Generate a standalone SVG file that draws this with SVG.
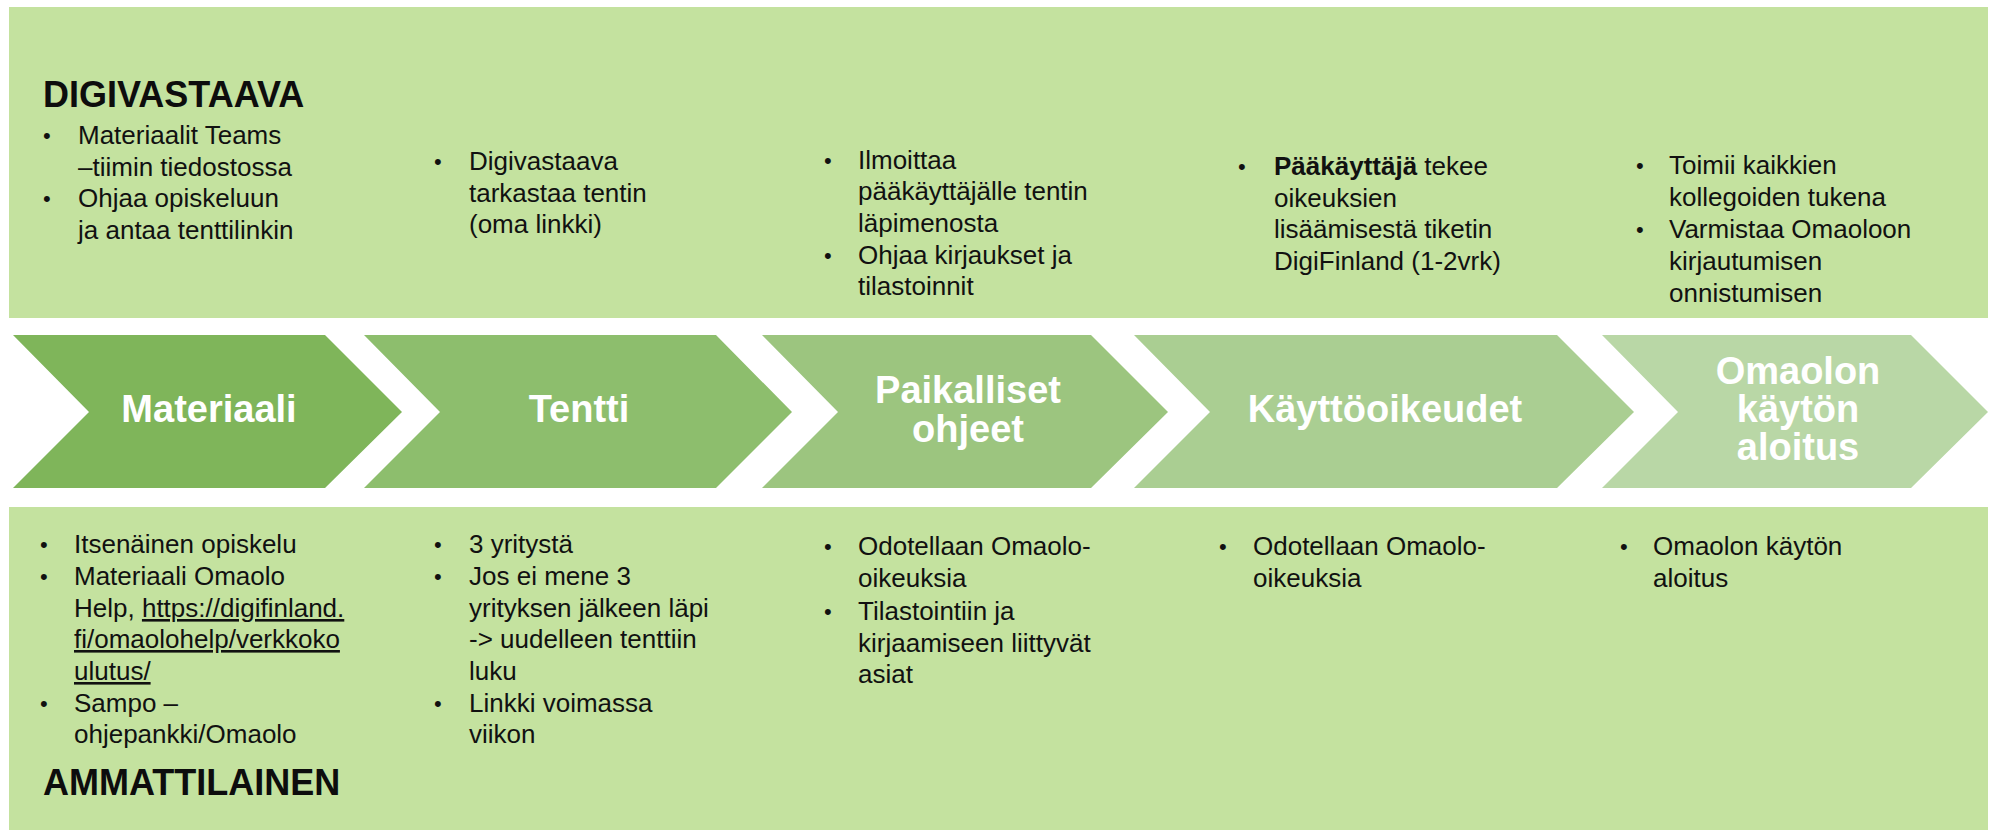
<svg xmlns="http://www.w3.org/2000/svg" width="1995" height="833" viewBox="0 0 1995 833">
  <style>
    .panel { fill: #C4E29F; }
    .head { font-family: "Liberation Sans", Arial, sans-serif; font-size: 36px; font-weight: bold; fill: #0d0d0d; }
    .body { font-family: "Liberation Sans", Arial, sans-serif; font-size: 26px; fill: #111111; }
    .bul { font-family: "Liberation Sans", Arial, sans-serif; font-size: 22px; fill: #111111; }
    .step { font-family: "Liberation Sans", Arial, sans-serif; font-size: 38px; font-weight: bold; fill: #ffffff; text-anchor: middle; }
    .link { text-decoration: underline; }
  </style>

  <!-- Background bands -->
  <g id="band-digivastaava">
    <rect class="panel" x="9" y="7" width="1979" height="311"/>
    <text class="head" x="43" y="107">DIGIVASTAAVA</text>
  </g>
  <g id="band-ammattilainen">
    <rect class="panel" x="9" y="507" width="1979" height="323"/>
    <text class="head" x="43" y="795">AMMATTILAINEN</text>
  </g>

  <!-- Process chevrons -->
  <g id="step-materiaali">
    <polygon points="13,335 325,335 402,412 325,488 13,488 89,412" fill="#7FB55A"/>
    <text class="step" x="209" y="422">Materiaali</text>
  </g>
  <g id="step-tentti">
    <polygon points="364,335 716,335 792,412 716,488 364,488 440,412" fill="#8DBE6D"/>
    <text class="step" x="579" y="422">Tentti</text>
  </g>
  <g id="step-paikalliset">
    <polygon points="762,335 1091,335 1168,412 1091,488 762,488 838,412" fill="#9CC57F"/>
    <text class="step"><tspan x="968" y="403">Paikalliset</tspan><tspan x="968" y="442">ohjeet</tspan></text>
  </g>
  <g id="step-kayttooikeudet">
    <polygon points="1134,335 1557,335 1634,412 1557,488 1134,488 1210,412" fill="#AACE92"/>
    <text class="step" x="1385" y="422">Käyttöoikeudet</text>
  </g>
  <g id="step-aloitus">
    <polygon points="1602,335 1911,335 1988,412 1911,488 1602,488 1678,412" fill="#B9D7A6"/>
    <text class="step"><tspan x="1798" y="384">Omaolon</tspan><tspan x="1798" y="422">käytön</tspan><tspan x="1798" y="460">aloitus</tspan></text>
  </g>

  <!-- Connectors: the chevrons abut directly, no separate lines -->
  <g id="connectors"></g>

  <!-- Upper notes (Digivastaava) -->
  <g id="top-materiaali">
    <text class="bul" x="43" y="143">•</text>
    <text class="body"><tspan x="78" y="144">Materiaalit Teams</tspan><tspan x="78" y="176">–tiimin tiedostossa</tspan></text>
    <text class="bul" x="43" y="206">•</text>
    <text class="body"><tspan x="78" y="207">Ohjaa opiskeluun</tspan><tspan x="78" y="239">ja antaa tenttilinkin</tspan></text>
  </g>
  <g id="top-tentti">
    <text class="bul" x="434" y="169">•</text>
    <text class="body"><tspan x="469" y="170">Digivastaava</tspan><tspan x="469" y="202">tarkastaa tentin</tspan><tspan x="469" y="233">(oma linkki)</tspan></text>
  </g>
  <g id="top-paikalliset">
    <text class="bul" x="824" y="168">•</text>
    <text class="body"><tspan x="858" y="169">Ilmoittaa</tspan><tspan x="858" y="200">pääkäyttäjälle tentin</tspan><tspan x="858" y="232">läpimenosta</tspan></text>
    <text class="bul" x="824" y="263">•</text>
    <text class="body"><tspan x="858" y="264">Ohjaa kirjaukset ja</tspan><tspan x="858" y="295">tilastoinnit</tspan></text>
  </g>
  <g id="top-kayttooikeudet">
    <text class="bul" x="1238" y="174">•</text>
    <text class="body"><tspan x="1274" y="175"><tspan font-weight="bold">Pääkäyttäjä</tspan> tekee</tspan><tspan x="1274" y="207">oikeuksien</tspan><tspan x="1274" y="238">lisäämisestä tiketin</tspan><tspan x="1274" y="270">DigiFinland (1-2vrk)</tspan></text>
  </g>
  <g id="top-aloitus">
    <text class="bul" x="1636" y="173">•</text>
    <text class="body"><tspan x="1669" y="174">Toimii kaikkien</tspan><tspan x="1669" y="206">kollegoiden tukena</tspan></text>
    <text class="bul" x="1636" y="237">•</text>
    <text class="body"><tspan x="1669" y="238">Varmistaa Omaoloon</tspan><tspan x="1669" y="270">kirjautumisen</tspan><tspan x="1669" y="302">onnistumisen</tspan></text>
  </g>

  <!-- Lower notes (Ammattilainen) -->
  <g id="bottom-materiaali">
    <text class="bul" x="40" y="552">•</text>
    <text class="body"><tspan x="74" y="553">Itsenäinen opiskelu</tspan></text>
    <text class="bul" x="40" y="584">•</text>
    <text class="body"><tspan x="74" y="585">Materiaali Omaolo</tspan><tspan x="74" y="617">Help, <tspan class="link">https://digifinland.</tspan></tspan><tspan x="74" y="648" class="link">fi/omaolohelp/verkkoko</tspan><tspan x="74" y="680" class="link">ulutus/</tspan></text>
    <text class="bul" x="40" y="711">•</text>
    <text class="body"><tspan x="74" y="712">Sampo –</tspan><tspan x="74" y="743">ohjepankki/Omaolo</tspan></text>
  </g>
  <g id="bottom-tentti">
    <text class="bul" x="434" y="552">•</text>
    <text class="body"><tspan x="469" y="553">3 yritystä</tspan></text>
    <text class="bul" x="434" y="584">•</text>
    <text class="body"><tspan x="469" y="585">Jos ei mene 3</tspan><tspan x="469" y="617">yrityksen jälkeen läpi</tspan><tspan x="469" y="648">-&gt; uudelleen tenttiin</tspan><tspan x="469" y="680">luku</tspan></text>
    <text class="bul" x="434" y="711">•</text>
    <text class="body"><tspan x="469" y="712">Linkki voimassa</tspan><tspan x="469" y="743">viikon</tspan></text>
  </g>
  <g id="bottom-paikalliset">
    <text class="bul" x="824" y="554">•</text>
    <text class="body"><tspan x="858" y="555">Odotellaan Omaolo-</tspan><tspan x="858" y="587">oikeuksia</tspan></text>
    <text class="bul" x="824" y="619">•</text>
    <text class="body"><tspan x="858" y="620">Tilastointiin ja</tspan><tspan x="858" y="652">kirjaamiseen liittyvät</tspan><tspan x="858" y="683">asiat</tspan></text>
  </g>
  <g id="bottom-kayttooikeudet">
    <text class="bul" x="1219" y="554">•</text>
    <text class="body"><tspan x="1253" y="555">Odotellaan Omaolo-</tspan><tspan x="1253" y="587">oikeuksia</tspan></text>
  </g>
  <g id="bottom-aloitus">
    <text class="bul" x="1620" y="554">•</text>
    <text class="body"><tspan x="1653" y="555">Omaolon käytön</tspan><tspan x="1653" y="587">aloitus</tspan></text>
  </g>
</svg>
